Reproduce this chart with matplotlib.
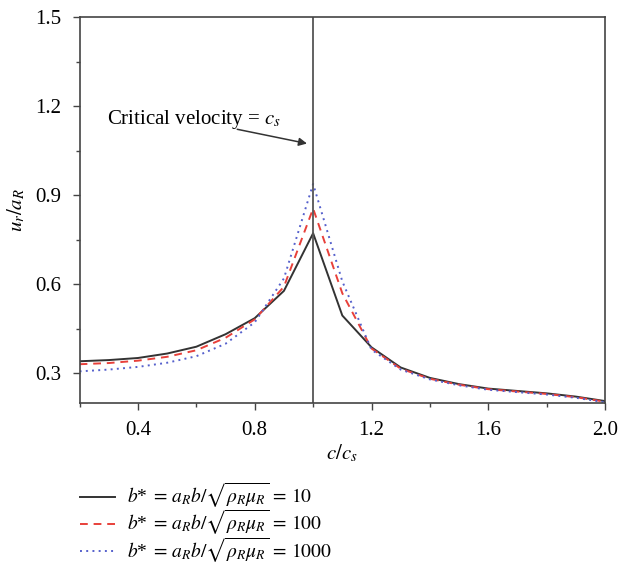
import matplotlib
matplotlib.use("Agg")
import matplotlib.pyplot as plt
from matplotlib.ticker import MultipleLocator

plt.rcParams['font.family'] = ['Liberation Serif', 'DejaVu Serif']
plt.rcParams['mathtext.fontset'] = 'stix'

x = [0.2, 0.3, 0.4, 0.5, 0.6, 0.7, 0.8, 0.9, 1.0, 1.1, 1.2, 1.3, 1.4, 1.5, 1.6, 1.7, 1.8, 1.9, 2.0]
b10 = [0.341, 0.345, 0.352, 0.367, 0.390, 0.432, 0.486, 0.578, 0.772, 0.495, 0.388, 0.320, 0.285, 0.264, 0.249, 0.241, 0.233, 0.222, 0.207]
b100 = [0.331, 0.335, 0.343, 0.356, 0.378, 0.420, 0.482, 0.592, 0.855, 0.570, 0.384, 0.316, 0.282, 0.262, 0.247, 0.239, 0.231, 0.220, 0.205]
b1000 = [0.307, 0.313, 0.322, 0.336, 0.358, 0.400, 0.472, 0.620, 0.938, 0.610, 0.380, 0.313, 0.280, 0.260, 0.245, 0.237, 0.229, 0.218, 0.203]
labels = [r'$b$*$\;=\, a_R b/\sqrt{\rho_R\mu_R}\, =\, 10$',
          r'$b$*$\;=\, a_R b/\sqrt{\rho_R\mu_R}\, =\, 100$',
          r'$b$*$\;=\, a_R b/\sqrt{\rho_R\mu_R}\, =\, 1000$']
critical = 1.0

fig = plt.figure(figsize=(6.18, 5.67), dpi=100)
ax = fig.add_axes([0.1288, 0.289, 0.979 - 0.1288, 0.970 - 0.289])

l1, = ax.plot(x, b10, color='#333333', lw=1.4, ls='-')
l2, = ax.plot(x, b100, color='#e8403a', lw=1.4, ls=(0, (4, 3)))
l3, = ax.plot(x, b1000, color='#5560cc', lw=1.4, ls=(0, (1, 2.2)))
ax.axvline(critical, color='#555555', lw=1.3)

ax.set_xlim(0.2, 2.0)
ax.set_ylim(0.2, 1.5)
ax.xaxis.set_minor_locator(MultipleLocator(0.2))
ax.yaxis.set_minor_locator(MultipleLocator(0.15))
ax.set_xticks([0.4, 0.8, 1.2, 1.6, 2.0])
ax.set_xticklabels(['0.4', '0.8', '1.2', '1.6', '2.0'])
ax.set_yticks([0.3, 0.6, 0.9, 1.2, 1.5])
ax.set_yticklabels(['0.3', '0.6', '0.9', '1.2', '1.5'])
ax.tick_params(which='both', direction='out', top=False, right=False, labelsize=15, width=1.0, color='#444444')
ax.tick_params(which='major', length=5, pad=8)
ax.tick_params(which='minor', length=3)
for s in ax.spines.values():
    s.set_color('#444444')
    s.set_linewidth(1.2)

ax.set_xlabel(r'$c/c_s$', fontsize=15, labelpad=2)
ax.set_ylabel(r'$u_r/a_R$', fontsize=15, labelpad=6)

ax.text(0.293, 1.14, r'Critical velocity = $c_s$', fontsize=15, ha='left', va='baseline')
ax.annotate('', xy=(0.979, 1.074), xytext=(0.74, 1.122),
            arrowprops=dict(arrowstyle='-|>', color='#333333', lw=1.1,
                            shrinkA=0, shrinkB=0, mutation_scale=12))

fig.legend([l1, l2, l3], labels, loc='upper left', bbox_to_anchor=(0.1295, 0.151),
           frameon=False, fontsize=14, handlelength=1.8, handletextpad=0.6,
           labelspacing=-0.1, borderaxespad=0, borderpad=0)

fig.savefig('out.png', dpi=100)
